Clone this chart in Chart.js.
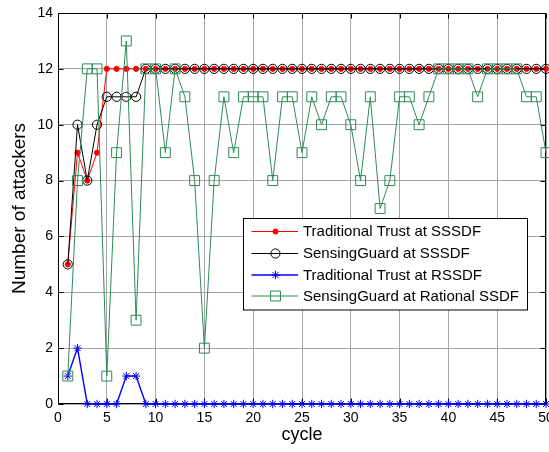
<!DOCTYPE html>
<html>
<head>
<meta charset="utf-8">
<script src="https://cdn.jsdelivr.net/npm/chart.js@4.4.1/dist/chart.umd.min.js"></script>
<style>
html,body{margin:0;padding:0;background:#fff;}
#wrap{width:549px;height:452px;position:relative;}
</style>
</head>
<body>
<div id="wrap"><canvas id="c" width="549" height="452"></canvas></div>
<script>
// ---- data ----
const cycles = [1,2,3,4,5,6,7,8,9,10,11,12,13,14,15,16,17,18,19,20,21,22,23,24,25,26,27,28,29,30,31,32,33,34,35,36,37,38,39,40,41,42,43,44,45,46,47,48,49,50];
const xTickValues = [0,5,10,15,20,25,30,35,40,45,50];
const yTickValues = [0,2,4,6,8,10,12,14];
const seriesNames = ["Traditional Trust at SSSDF","SensingGuard at SSSDF","Traditional Trust at RSSDF","SensingGuard at Rational SSDF"];
const tradTrustSSSDF = [5,9,8,9,12,12,12,12,12,12,12,12,12,12,12,12,12,12,12,12,12,12,12,12,12,12,12,12,12,12,12,12,12,12,12,12,12,12,12,12,12,12,12,12,12,12,12,12,12,12];
const sensingGuardSSSDF = [5,10,8,10,11,11,11,11,12,12,12,12,12,12,12,12,12,12,12,12,12,12,12,12,12,12,12,12,12,12,12,12,12,12,12,12,12,12,12,12,12,12,12,12,12,12,12,12,12,12];
const tradTrustRSSDF = [1,2,0,0,0,0,1,1,0,0,0,0,0,0,0,0,0,0,0,0,0,0,0,0,0,0,0,0,0,0,0,0,0,0,0,0,0,0,0,0,0,0,0,0,0,0,0,0,0,0];
const sensingGuardRational = [1,8,12,12,1,9,13,3,12,12,9,12,11,8,2,8,11,9,11,11,11,8,11,11,9,11,10,11,11,10,8,11,7,8,11,11,10,11,12,12,12,12,11,12,12,12,12,11,11,9];

const FONT = "'Liberation Sans', Arial, Helvetica, sans-serif";
const GREEN = '#2e8b57';

function pts(vals){ return cycles.map((c,i)=>({x:c, y:vals[i]})); }

const styles = [
  {color:'#ff0000', style:'circle', radius:2.6, bg:'#ff0000', lw:1, order:3},
  {color:'#000000', style:'circle', radius:4.6, bg:'rgba(0,0,0,0)', lw:1, order:2},
  {color:'#0000ff', style:'star',   radius:4.2, bg:'#0000ff', lw:1.4, order:1},
  {color:GREEN,     style:'rect',   radius:7,   bg:'rgba(0,0,0,0)', lw:1, order:0}
];
const seriesData = [tradTrustSSSDF, sensingGuardSSSDF, tradTrustRSSDF, sensingGuardRational];

const datasets = seriesData.map((vals,i)=>({
  label: seriesNames[i],
  data: pts(vals),
  borderColor: styles[i].color,
  backgroundColor: styles[i].bg,
  borderWidth: styles[i].lw,
  pointStyle: styles[i].style,
  pointRadius: styles[i].radius,
  pointBorderColor: styles[i].color,
  pointBackgroundColor: styles[i].bg,
  pointBorderWidth: 1,
  pointHoverRadius: styles[i].radius,
  tension: 0,
  clip: false,
  order: styles[i].order
}));

function markerPath(ctx, style, x, y, r, color, bg){
  ctx.save();
  ctx.strokeStyle = color; ctx.fillStyle = bg; ctx.lineWidth = 1;
  ctx.beginPath();
  if (style === 'circle') {
    ctx.arc(x, y, r, 0, Math.PI*2);
    ctx.fill(); ctx.stroke();
  } else if (style === 'rect') {
    const s = Math.SQRT1_2 * r;
    ctx.rect(x - s, y - s, 2*s, 2*s);
    ctx.stroke();
  } else if (style === 'star') {
    ctx.moveTo(x, y - r); ctx.lineTo(x, y + r);
    ctx.moveTo(x - r, y); ctx.lineTo(x + r, y);
    const d = r * Math.SQRT1_2;
    ctx.moveTo(x - d, y - d); ctx.lineTo(x + d, y + d);
    ctx.moveTo(x - d, y + d); ctx.lineTo(x + d, y - d);
    ctx.stroke();
  }
  ctx.restore();
}

const boxPlugin = {
  id: 'boxPlugin',
  beforeDatasetsDraw(chart){
    const {ctx, chartArea:a, scales:{x, y}} = chart;
    ctx.save();
    ctx.strokeStyle = '#000'; ctx.lineWidth = 1;
    const L = Math.round(a.left)+0.5, R = Math.round(a.right)-0.5, T = Math.round(a.top)+0.5, B = Math.round(a.bottom)-0.5;
    ctx.beginPath();
    ctx.rect(L, T, R-L, B-T);
    const tl = 5;
    xTickValues.forEach(v=>{
      const px = Math.round(x.getPixelForValue(v))+0.5;
      ctx.moveTo(px, B); ctx.lineTo(px, B - tl);
      ctx.moveTo(px, T); ctx.lineTo(px, T + tl);
    });
    yTickValues.forEach(v=>{
      const py = Math.round(y.getPixelForValue(v))+0.5;
      ctx.moveTo(L, py); ctx.lineTo(L + tl, py);
      ctx.moveTo(R, py); ctx.lineTo(R - tl, py);
    });
    ctx.stroke();
    ctx.restore();
  },
  afterDraw(chart){
    const {ctx} = chart;
    const bx = 243.5, by = 218.5, bw = 284, bh = 91.5;
    ctx.save();
    ctx.fillStyle = '#fff';
    ctx.fillRect(bx, by, bw, bh);
    ctx.strokeStyle = '#000'; ctx.lineWidth = 1;
    ctx.strokeRect(bx, by, bw, bh);
    const rowY = [231.5, 253.5, 275, 296];
    ctx.font = '15px ' + FONT;
    ctx.textBaseline = 'middle';
    ctx.textAlign = 'left';
    seriesNames.forEach((name,i)=>{
      const s = styles[i];
      const yy = rowY[i];
      ctx.strokeStyle = s.color; ctx.lineWidth = s.lw;
      ctx.beginPath(); ctx.moveTo(251.5, yy); ctx.lineTo(298, yy); ctx.stroke();
      markerPath(ctx, s.style, 275.5, yy, s.radius, s.color, s.bg);
      ctx.fillStyle = '#000';
      ctx.fillText(name, 303, yy + 0.5);
    });
    ctx.restore();
  }
};

new Chart(document.getElementById('c'), {
  type: 'line',
  data: { datasets },
  plugins: [boxPlugin],
  options: {
    responsive: false,
    devicePixelRatio: 1,
    animation: false,
    events: [],
    layout: { autoPadding: false, padding: { top: 13, right: 3, left: 0, bottom: 0 } },
    plugins: { legend: { display: false }, tooltip: { enabled: false } },
    scales: {
      x: {
        type: 'linear', min: 0, max: 50,
        afterBuildTicks: s => { s.ticks = xTickValues.map(v=>({value:v})); },
        afterFit: s => { s.height = 48; s.paddingLeft = 0; s.paddingRight = 0; },
        grid: { color: '#a6a6a6', lineWidth: 1, drawTicks: false },
        border: { display: false },
        ticks: { color: '#000', font: { family: FONT, size: 14 }, padding: 6, maxRotation: 0, autoSkip: false },
        title: { display: true, text: 'cycle', color: '#000', font: { family: FONT, size: 18 }, padding: { top: 0, bottom: 6 } }
      },
      y: {
        type: 'linear', min: 0, max: 14,
        afterBuildTicks: s => { s.ticks = yTickValues.map(v=>({value:v})); },
        afterFit: s => { s.width = 58; s.paddingTop = 0; s.paddingBottom = 0; },
        grid: { color: '#a6a6a6', lineWidth: 1, drawTicks: false },
        border: { display: false },
        ticks: { color: '#000', font: { family: FONT, size: 14 }, padding: 5, autoSkip: false },
        title: { display: true, text: 'Number of attackers', color: '#000', font: { family: FONT, size: 19 }, padding: { top: 8.5, bottom: 0 } }
      }
    }
  }
});
</script>
</body>
</html>
